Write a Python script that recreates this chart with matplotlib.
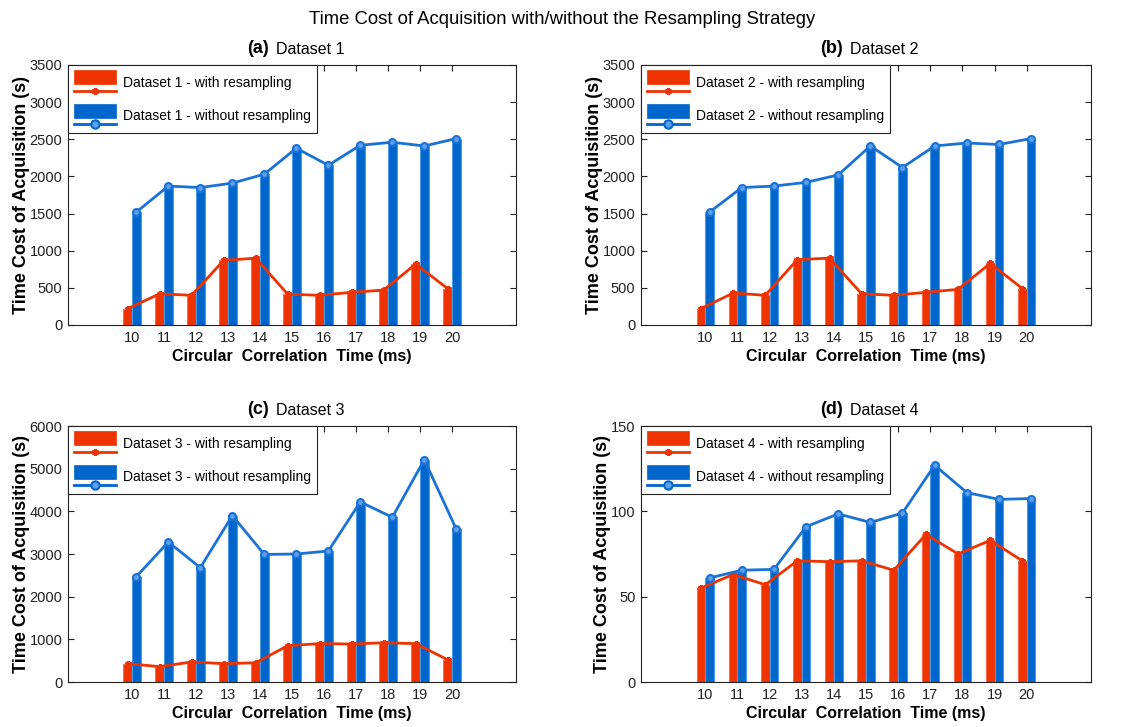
import numpy as np
import matplotlib
matplotlib.use("Agg")
import matplotlib.pyplot as plt
from matplotlib.legend_handler import HandlerBase
from matplotlib.patches import Rectangle
from matplotlib.lines import Line2D

plt.rcParams['font.family'] = ['Liberation Sans', 'DejaVu Sans']

# circular correlation time (ms)
corr_time = [10, 11, 12, 13, 14, 15, 16, 17, 18, 19, 20]

# time cost of acquisition (s), with / without resampling
ds1_with = [220, 420, 400, 870, 900, 415, 400, 440, 470, 820, 490]
ds1_without = [1520, 1870, 1850, 1910, 2030, 2380, 2150, 2420, 2460, 2410, 2510]

ds2_with = [220, 430, 400, 880, 900, 420, 400, 440, 480, 830, 490]
ds2_without = [1520, 1850, 1870, 1920, 2020, 2410, 2120, 2410, 2450, 2430, 2510]

ds3_with = [430, 360, 470, 430, 450, 850, 900, 890, 920, 900, 520]
ds3_without = [2470, 3280, 2680, 3900, 2990, 3000, 3070, 4220, 3860, 5210, 3580]

ds4_with = [55, 63, 57, 71, 70.5, 71, 65.5, 86.5, 75, 83, 71]
ds4_without = [61, 65.5, 66, 91, 98.5, 93.5, 99, 127, 111, 107, 107.5]

panels = [
    ("(a)", "Dataset 1", ds1_with, ds1_without, 3500, 500),
    ("(b)", "Dataset 2", ds2_with, ds2_without, 3500, 500),
    ("(c)", "Dataset 3", ds3_with, ds3_without, 6000, 1000),
    ("(d)", "Dataset 4", ds4_with, ds4_without, 150, 50),
]

RED = "#ee3300"
BLUE = "#0066cc"
RED_EDGE = "#ff6a4a"
BLUE_EDGE = "#4d9be6"
ASTERISK = (6, 2, 0)


class BarLineHandler(HandlerBase):
    # legend key: bar patch on top, line with marker underneath
    def create_artists(self, legend, orig_handle, xdescent, ydescent,
                       width, height, fontsize, trans):
        color, marker, mfc, ms = orig_handle
        rect = Rectangle((-xdescent, -ydescent + 0.42 * height), width, 0.62 * height,
                         facecolor=color, edgecolor=color, lw=0.5, transform=trans)
        y = -ydescent + 0.12 * height
        line = Line2D([-xdescent, -xdescent + width], [y, y], color=color, lw=2,
                      transform=trans)
        mk = Line2D([-xdescent + width / 2], [y], color=color, marker=marker,
                    markerfacecolor=mfc, markeredgecolor=color, markersize=ms,
                    mew=1.5, transform=trans)
        return [rect, line, mk]


fig = plt.figure(figsize=(11.25, 7.27), dpi=100)
positions = [
    [68 / 1125, 1 - 325 / 727, 448 / 1125, 260 / 727],
    [641 / 1125, 1 - 325 / 727, 450 / 1125, 260 / 727],
    [68 / 1125, 1 - 682 / 727, 448 / 1125, 256 / 727],
    [641 / 1125, 1 - 682 / 727, 450 / 1125, 256 / 727],
]

x = np.array(corr_time)
w = 0.27
for pos, (tag, name, with_vals, without_vals, ymax, ystep) in zip(positions, panels):
    ax = fig.add_axes(pos)
    ax.bar(x - w / 2, with_vals, width=w, color=RED, edgecolor=RED_EDGE, lw=0.8, zorder=2)
    ax.bar(x + w / 2, without_vals, width=w, color=BLUE, edgecolor=BLUE_EDGE, lw=0.8, zorder=2)
    ax.plot(x - w / 2, with_vals, color=RED, lw=2, marker=ASTERISK, ms=5, mew=1.5, zorder=3)
    ax.plot(x + w / 2, without_vals, color="#1a72d6", lw=2, marker="o", ms=5,
            markerfacecolor="#5aa0ea", mew=1.5, zorder=3)

    ax.set_xlim(8, 22)
    ax.set_ylim(0, ymax)
    ax.set_xticks(corr_time)
    ax.set_yticks(np.arange(0, ymax + 1, ystep))
    ax.tick_params(direction="in", top=True, right=True, length=4, width=0.8,
                   labelsize=10.5, colors="#222222", pad=4)
    for s in ax.spines.values():
        s.set_linewidth(0.8)
        s.set_color("#222222")

    ax.set_xlabel("Circular  Correlation  Time (ms)", fontsize=11.5, fontweight="bold", labelpad=3)
    ax.set_ylabel("Time Cost of Acquisition (s)", fontsize=13, fontweight="bold", labelpad=0)

    ax.annotate(tag, xy=(0.5, 1.0), xycoords="axes fraction", xytext=(-17, 6),
                textcoords="offset points", ha="right", va="bottom",
                fontsize=13, fontweight="bold")
    ax.annotate(name, xy=(0.5, 1.0), xycoords="axes fraction", xytext=(-11.5, 6),
                textcoords="offset points", ha="left", va="bottom",
                fontsize=11.5)

    handles = [(RED, ASTERISK, RED, 5), (BLUE, "o", "#5aa0ea", 6)]
    labels = [name + " - with resampling", name + " - without resampling"]
    leg = ax.legend(handles, labels, handler_map={tuple: BarLineHandler()},
                    loc="upper left", bbox_to_anchor=(0, 1), borderaxespad=0,
                    fontsize=10, handlelength=3.0, handleheight=2.1,
                    labelspacing=0.8, handletextpad=0.5, borderpad=0.45,
                    fancybox=False, framealpha=1, edgecolor="#222222")
    leg.get_frame().set_linewidth(0.8)

fig.suptitle("Time Cost of Acquisition with/without the Resampling Strategy",
             fontsize=13.3, y=0.985)

fig.savefig("out.png", dpi=100)
